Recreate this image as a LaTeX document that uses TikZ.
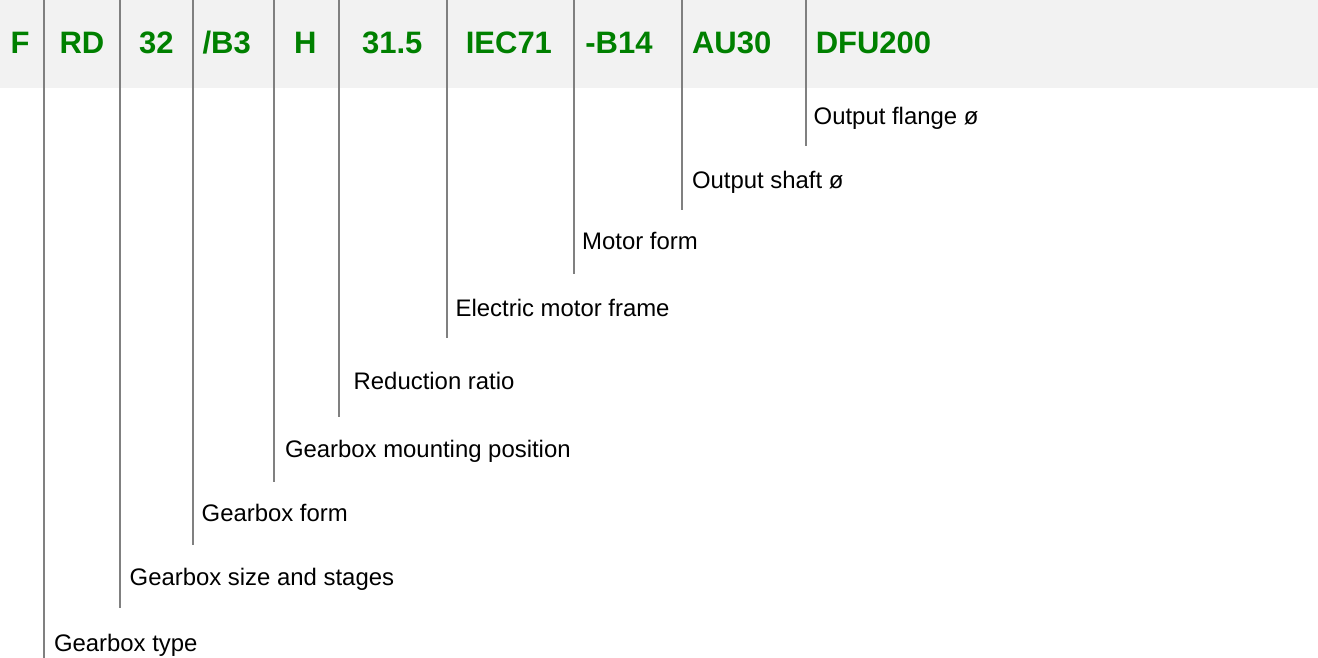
\documentclass[tikz,border=0pt]{standalone}
\usepackage{fontspec}
\setmainfont{Liberation Sans}
\definecolor{band}{HTML}{F2F2F2}
\definecolor{codegreen}{HTML}{008000}
\definecolor{rule}{HTML}{808080}
\begin{document}
\begin{tikzpicture}[x=1pt,y=-1pt,
  code/.style={anchor=base,inner sep=0pt,text=codegreen,font=\fontsize{31}{31}\bfseries\selectfont},
  lbl/.style={anchor=base west,inner sep=0pt,text=black,font=\fontsize{23.9}{24}\selectfont},
  leader/.style={draw=rule,line width=2pt}]
\useasboundingbox (0,0) rectangle (1318,658);
\fill[band] (0,0) rectangle (1318,88);
% header codes
\node[code] (cF) at (20,53.3) {F};
\node[code] (cRD) at (82,53.3) {RD};
\node[code] (c32) at (156.3,53.3) {32};
\node[code] (cB3) at (226.7,53.3) {/B3};
\node[code] (cH) at (305.3,53.3) {H};
\node[code] (cR) at (392.2,53.3) {31.5};
\node[code] (cIEC) at (508.9,53.3) {IEC71};
\node[code] (cB14) at (619,53.3) {-B14};
\node[code] (cAU) at (731.7,53.3) {AU30};
\node[code] (cDFU) at (873.5,53.3) {DFU200};
% leader lines
\coordinate (t1) at (44,0);   \coordinate (b1) at (44,658);
\coordinate (t2) at (120,0);  \coordinate (b2) at (120,608);
\coordinate (t3) at (193,0);  \coordinate (b3) at (193,545);
\coordinate (t4) at (274,0);  \coordinate (b4) at (274,481.7);
\coordinate (t5) at (339,0);  \coordinate (b5) at (339,416.7);
\coordinate (t6) at (447,0);  \coordinate (b6) at (447,338.3);
\coordinate (t7) at (574,0);  \coordinate (b7) at (574,274.3);
\coordinate (t8) at (682,0);  \coordinate (b8) at (682,210);
\coordinate (t9) at (806,0);  \coordinate (b9) at (806,146);
\foreach \i in {1,...,9}{\draw[leader] (t\i) -- (b\i);}
% labels
\node[lbl] (l1) at (53.8,651) {Gearbox type};
\node[lbl] (l2) at (129.5,585.7) {Gearbox size and stages};
\node[lbl] (l3) at (201.5,521.7) {Gearbox form};
\node[lbl] (l4) at (284.8,457.7) {Gearbox mounting position};
\node[lbl] (l5) at (353.5,389) {Reduction ratio};
\node[lbl] (l6) at (455.5,316.5) {Electric motor frame};
\node[lbl] (l7) at (582,249) {Motor form};
\node[lbl] (l8) at (691.8,188.3) {Output shaft ø};
\node[lbl] (l9) at (813.5,125) {Output flange ø};
\end{tikzpicture}
\end{document}
